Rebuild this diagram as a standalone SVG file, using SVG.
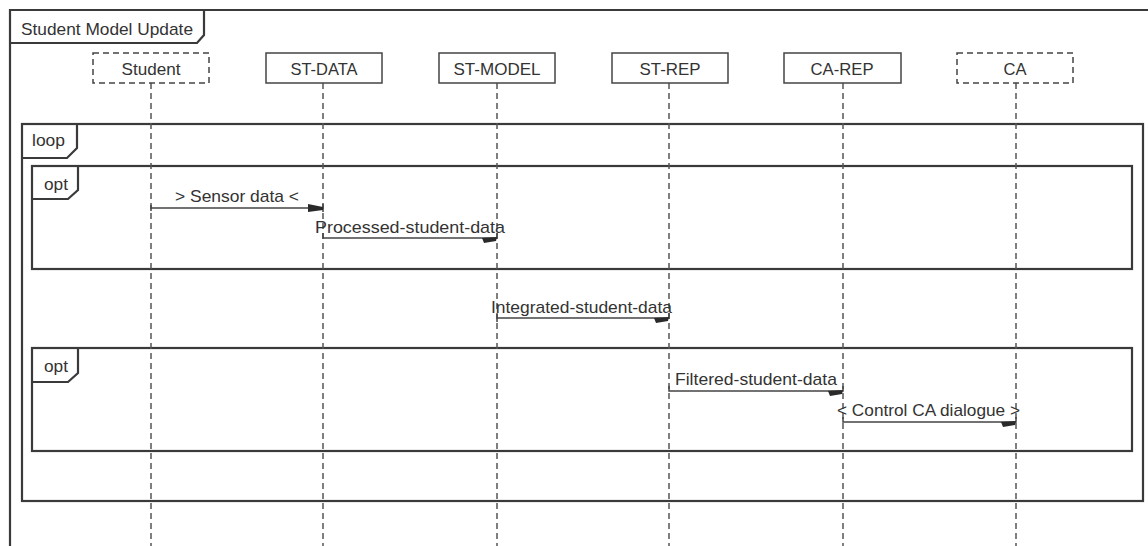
<svg xmlns="http://www.w3.org/2000/svg" width="1148" height="546" viewBox="0 0 1148 546">
  <style>
    text { font-family: "Liberation Sans", Arial, sans-serif; font-size: 17px; fill: #333; }
    .frame { fill: none; stroke: #3a3a3a; stroke-width: 2.2; }
    .head { fill: #fff; stroke: #444; stroke-width: 1.5; }
    .head.actor { stroke-dasharray: 6 4; }
    .life { stroke: #555; stroke-width: 1.5; stroke-dasharray: 6 4; fill: none; }
    .msg { stroke: #444; stroke-width: 1.5; fill: none; }
    .tip { fill: #2a2a2a; stroke: none; }
    .mid { text-anchor: middle; }
  </style>

  <rect width="1148" height="546" fill="#fff"/>

  <!-- outer diagram frame -->
  <g id="frame-main">
    <path class="frame" d="M10,550 L10,10 L1150,10"/>
    <path class="frame" d="M10,43 L197,43 L204,35 L204,10"/>
    <text x="21" y="35" textLength="172" lengthAdjust="spacingAndGlyphs">Student Model Update</text>
  </g>

  <!-- combined fragments -->
  <g id="frag-loop">
    <rect class="frame" x="22" y="124" width="1121" height="377"/>
    <path class="frame" d="M22,158 L67,158 L77,148 L77,124"/>
    <text x="32" y="146" textLength="33" lengthAdjust="spacingAndGlyphs">loop</text>
  </g>
  <g id="frag-opt1">
    <rect class="frame" x="32" y="166" width="1100" height="103"/>
    <path class="frame" d="M32,199 L68,199 L78,190 L78,166"/>
    <text x="44" y="190" textLength="24" lengthAdjust="spacingAndGlyphs">opt</text>
  </g>
  <g id="frag-opt2">
    <rect class="frame" x="32" y="348" width="1100" height="103"/>
    <path class="frame" d="M32,382 L68,382 L78,373 L78,348"/>
    <text x="44" y="372" textLength="24" lengthAdjust="spacingAndGlyphs">opt</text>
  </g>

  <!-- lifelines -->
  <g id="lifelines">
    <line class="life" x1="151" y1="83" x2="151" y2="546"/>
    <line class="life" x1="323" y1="83" x2="323" y2="546"/>
    <line class="life" x1="497" y1="83" x2="497" y2="546"/>
    <line class="life" x1="669" y1="83" x2="669" y2="546"/>
    <line class="life" x1="843" y1="83" x2="843" y2="546"/>
    <line class="life" x1="1016" y1="83" x2="1016" y2="546"/>
  </g>

  <!-- participant heads -->
  <g id="student">
    <rect class="head actor" x="93" y="53" width="116" height="30"/>
    <text class="mid" x="151" y="75" textLength="59" lengthAdjust="spacingAndGlyphs">Student</text>
  </g>
  <g id="st-data">
    <rect class="head" x="266" y="53" width="116" height="30"/>
    <text class="mid" x="324" y="75" textLength="67" lengthAdjust="spacingAndGlyphs">ST-DATA</text>
  </g>
  <g id="st-model">
    <rect class="head" x="439" y="53" width="116" height="30"/>
    <text class="mid" x="497" y="75" textLength="87" lengthAdjust="spacingAndGlyphs">ST-MODEL</text>
  </g>
  <g id="st-rep">
    <rect class="head" x="612" y="53" width="116" height="30"/>
    <text class="mid" x="670" y="75" textLength="61" lengthAdjust="spacingAndGlyphs">ST-REP</text>
  </g>
  <g id="ca-rep">
    <rect class="head" x="784" y="53" width="117" height="30"/>
    <text class="mid" x="842" y="75" textLength="63" lengthAdjust="spacingAndGlyphs">CA-REP</text>
  </g>
  <g id="ca">
    <rect class="head actor" x="957" y="53" width="116" height="30"/>
    <text class="mid" x="1015" y="75" textLength="23" lengthAdjust="spacingAndGlyphs">CA</text>
  </g>

  <!-- messages -->
  <g id="connectors">
    <!-- Student -> ST-DATA -->
    <path class="msg" d="M151,205 L151,211 M151,208 L323,208 M323,204 L323,212"/>
    <polygon class="tip" points="308,204 323,207 323,210 308,212"/>
    <text x="175" y="202" textLength="124" lengthAdjust="spacingAndGlyphs">&gt; Sensor data &lt;</text>

    <!-- ST-DATA -> ST-MODEL -->
    <path class="msg" d="M323,233 L323,238 L497,238 L497,233"/>
    <polygon class="tip" points="482,238 497,237 496,241 484,243"/>
    <text x="315" y="233" textLength="190" lengthAdjust="spacingAndGlyphs">Processed-student-data</text>

    <!-- ST-MODEL -> ST-REP -->
    <path class="msg" d="M497,314 L497,322 M497,318 L669,318 L669,313"/>
    <polygon class="tip" points="654,318 669,317 668,321 656,323"/>
    <text x="491" y="313" textLength="181" lengthAdjust="spacingAndGlyphs">Integrated-student-data</text>

    <!-- ST-REP -> CA-REP -->
    <path class="msg" d="M669,386 L669,391 L843,391 L843,386"/>
    <polygon class="tip" points="828,391 843,390 842,394 830,396"/>
    <text x="675" y="385" textLength="162" lengthAdjust="spacingAndGlyphs">Filtered-student-data</text>

    <!-- CA-REP -> CA -->
    <path class="msg" d="M843,417 L843,422 L1016,422 L1016,417"/>
    <polygon class="tip" points="1001,422 1016,421 1015,425 1003,427"/>
    <text x="837" y="416" textLength="183" lengthAdjust="spacingAndGlyphs">&lt; Control CA dialogue &gt;</text>
  </g>
</svg>
